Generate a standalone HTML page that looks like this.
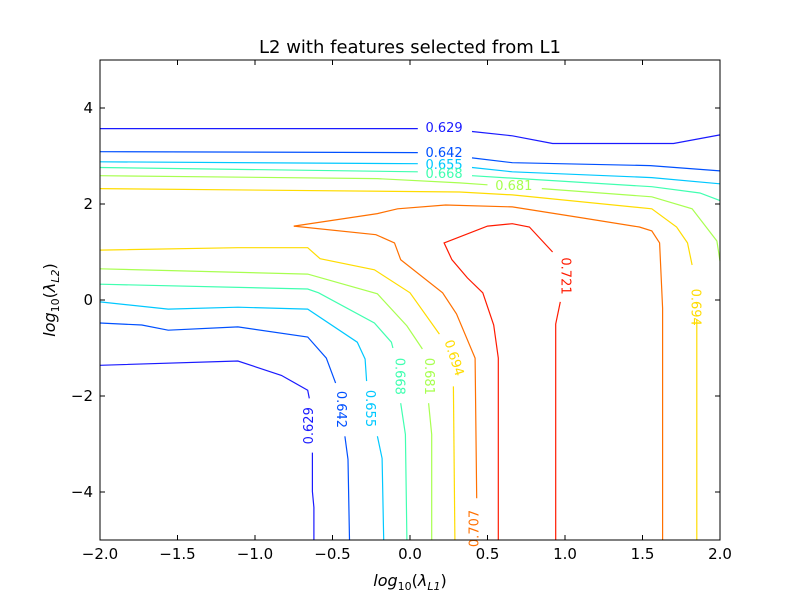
<!DOCTYPE html>
<html><head><meta charset="utf-8"><style>
body{margin:0;background:#fff}
svg text{font-family:"DejaVu Sans","Liberation Sans",sans-serif}
</style></head><body>
<svg id="chart" width="800" height="600" xmlns="http://www.w3.org/2000/svg">
<rect width="800" height="600" fill="#fff"/>
<text x="410" y="53" font-size="18" text-anchor="middle">L2 with features selected from L1</text>
<g id="lines"></g>
<g id="labels"></g>
<rect x="100" y="60" width="620" height="480" fill="none" stroke="#000" stroke-width="1"/>
<g id="ticks"></g>
<text x="410" y="586" font-size="16" text-anchor="middle" font-family="Liberation Serif, serif" font-style="italic">log<tspan font-style="normal" font-size="11" dy="4">10</tspan><tspan dy="-4" font-style="normal">(</tspan>λ<tspan font-size="11" dy="4">L1</tspan><tspan dy="-4" font-style="normal">)</tspan></text>
<text transform="translate(55,300) rotate(-90)" font-size="16" text-anchor="middle" font-family="Liberation Serif, serif" font-style="italic">log<tspan font-style="normal" font-size="11" dy="4">10</tspan><tspan dy="-4" font-style="normal">(</tspan>λ<tspan font-size="11" dy="4">L2</tspan><tspan dy="-4" font-style="normal">)</tspan></text>
</svg>
<script>
const xTicks=[-2,-1.5,-1,-0.5,0,0.5,1,1.5,2];
const yTicks=[-4,-2,0,2,4];
const levels=['0.629','0.642','0.655','0.668','0.681','0.694','0.707','0.721'];
const levelColors=['#1a1aff','#0050ff','#00c8ff','#40ffb0','#a8ff50','#ffdc00','#ff7000','#ff1a00'];
const c629Top=[[-2,3.57],[0.05,3.57]];
const c629TopR=[[0.40,3.51],[0.66,3.42],[0.92,3.26],[1.70,3.26],[2,3.44]];
const c629Bot=[[-2,-1.36],[-1.11,-1.27],[-0.83,-1.57],[-0.66,-1.88],[-0.65,-2.05]];
const c629BotB=[[-0.63,-3.18],[-0.63,-3.99],[-0.62,-4.32],[-0.62,-5]];
const c642Top=[[-2,3.09],[0.05,3.07]];
const c642TopR=[[0.40,2.96],[0.66,2.86],[1.55,2.80],[2,2.69]];
const c642Bot=[[-2,-0.48],[-1.73,-0.52],[-1.56,-0.63],[-1.11,-0.56],[-0.66,-0.77],[-0.54,-1.21],[-0.48,-1.73]];
const c642BotB=[[-0.42,-2.84],[-0.40,-3.32],[-0.39,-5]];
const c655Top=[[-2,2.88],[0.05,2.84]];
const c655TopR=[[0.40,2.76],[0.66,2.67],[1.56,2.55],[2,2.42]];
const c655Bot=[[-2,-0.04],[-1.56,-0.19],[-1.11,-0.15],[-0.66,-0.19],[-0.34,-0.88],[-0.29,-1.23],[-0.28,-1.69]];
const c655BotB=[[-0.21,-2.84],[-0.18,-3.30],[-0.17,-5]];
const c668Top=[[-2,2.76],[0.05,2.67]];
const c668TopR=[[0.40,2.59],[1.56,2.36],[1.87,2.23],[2,2.07]];
const c668Bot=[[-2,0.33],[-0.66,0.23],[-0.59,0.15],[-0.23,-0.48],[-0.12,-0.88],[-0.11,-1.00]];
const c668BotB=[[-0.06,-2.15],[-0.03,-2.80],[-0.02,-5]];
const c681Top=[[-2,2.59],[-0.21,2.53],[0.32,2.44],[0.50,2.40]];
const c681TopR=[[0.85,2.32],[1.56,2.15],[1.82,1.90],[1.98,1.23],[2,0.81]];
const c681Bot=[[-2,0.65],[-0.66,0.54],[-0.21,0.13],[-0.02,-0.54],[0.08,-1.02]];
const c681BotB=[[0.12,-2.15],[0.14,-2.80],[0.14,-5]];
const c694Top=[[-2,2.32],[0.32,2.25],[0.66,2.19],[1.56,1.90],[1.72,1.52],[1.79,1.19],[1.82,0.73]];
const c694TopR=[[1.85,-0.40],[1.85,-5]];
const c694Bot=[[-2,1.04],[-1.11,1.09],[-0.66,1.09],[-0.58,0.86],[-0.23,0.63],[0.0,0.15],[0.19,-0.71]];
const c694BotB=[[0.28,-1.80],[0.29,-5]];
const c707Top=[[-0.75,1.54],[-0.21,1.80],[-0.08,1.90],[0.23,1.98],[0.66,1.94],[1.11,1.71],[1.48,1.52],[1.56,1.44],[1.61,1.19],[1.63,-0.17],[1.63,-5]];
const c707Bot=[[-0.75,1.54],[-0.22,1.36],[-0.10,1.19],[-0.06,0.84],[0.21,0.15],[0.30,-0.29],[0.42,-1.21],[0.43,-4.13]];
const c721L=[[0.92,1.00],[0.77,1.52],[0.66,1.59],[0.50,1.54],[0.22,1.19],[0.27,0.84],[0.37,0.46],[0.47,0.15],[0.54,-0.52],[0.57,-1.21],[0.57,-5]];
const c721R=[[0.97,-0.04],[0.96,-0.19],[0.94,-0.50],[0.94,-1.21],[0.94,-5]];
const segments=[[c629Top,0],[c629TopR,0],[c629Bot,0],[c629BotB,0],[c642Top,1],[c642TopR,1],[c642Bot,1],[c642BotB,1],[c655Top,2],[c655TopR,2],[c655Bot,2],[c655BotB,2],[c668Top,3],[c668TopR,3],[c668Bot,3],[c668BotB,3],[c681Top,4],[c681TopR,4],[c681Bot,4],[c681BotB,4],[c694Top,5],[c694TopR,5],[c694Bot,5],[c694BotB,5],[c707Top,6],[c707Bot,6],[c721L,7],[c721R,7]];
// label anchors in data coords: [levelIndex, x, y, rotation]
const labelPos=[[0,0.22,3.57,0],[1,0.22,3.05,0],[2,0.22,2.80,0],[3,0.22,2.61,0],[4,0.67,2.36,0],[0,-0.65,-2.62,-90],[1,-0.45,-2.28,90],[2,-0.26,-2.26,90],[3,-0.07,-1.59,90],[4,0.12,-1.59,90],[5,0.28,-1.21,72],[7,1.0,0.50,90],[5,1.84,-0.15,90],[6,0.42,-4.76,-90]];
const X=v=>100+(v+2)/4*620, Y=v=>540-(v+5)/10*480;
const NS='http://www.w3.org/2000/svg';
const gl=document.getElementById('lines'),glb=document.getElementById('labels'),gt=document.getElementById('ticks');
segments.forEach(([pts,li])=>{
 const p=document.createElementNS(NS,'polyline');
 p.setAttribute('points',pts.map(q=>X(q[0]).toFixed(1)+','+Y(q[1]).toFixed(1)).join(' '));
 p.setAttribute('fill','none');p.setAttribute('stroke',levelColors[li]);p.setAttribute('stroke-width','1.2');
 
 
 gl.appendChild(p);
});
labelPos.forEach(([li,x,y,r])=>{
 const t=document.createElementNS(NS,'text');
 t.setAttribute('transform','translate('+X(x)+','+Y(y)+') rotate('+r+')');
 t.setAttribute('text-anchor','middle');t.setAttribute('dominant-baseline','central');
 t.setAttribute('font-size','13');t.setAttribute('fill',levelColors[li]);
 t.textContent=levels[li];
 
 
 glb.appendChild(t);
});
function line(x1,y1,x2,y2){const l=document.createElementNS(NS,'line');l.setAttribute('x1',x1);l.setAttribute('y1',y1);l.setAttribute('x2',x2);l.setAttribute('y2',y2);l.setAttribute('stroke','#000');gt.appendChild(l);return l;}
xTicks.forEach(v=>{
 const x=X(v);
 const a=line(x,540,x,535);
 
 
 const b=line(x,60,x,65);
 
 
 const t=document.createElementNS(NS,'text');
 t.setAttribute('x',x);t.setAttribute('y',559);t.setAttribute('font-size','15');t.setAttribute('text-anchor','middle');
 t.textContent=(v<0?'\u2212':'')+Math.abs(v).toFixed(1);
 
 
 gt.appendChild(t);
});
yTicks.forEach(v=>{
 const y=Y(v);
 const a=line(100,y,105,y);
 
 
 const b=line(720,y,715,y);
 
 
 const t=document.createElementNS(NS,'text');
 t.setAttribute('x',93);t.setAttribute('y',y+5);t.setAttribute('font-size','15');t.setAttribute('text-anchor','end');
 t.textContent=(v<0?'\u2212':'')+Math.abs(v);
 
 
 gt.appendChild(t);
});
</script>
</body></html>
